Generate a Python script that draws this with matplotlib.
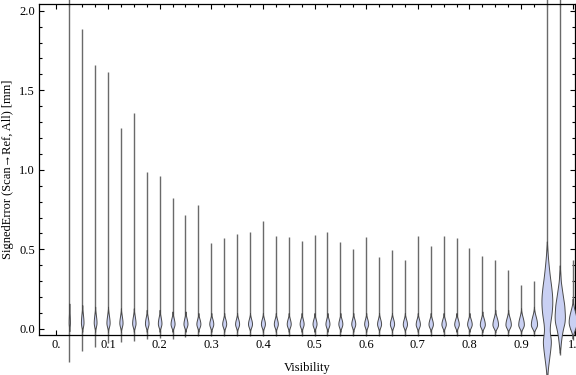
import numpy as np
import matplotlib
matplotlib.use("Agg")
import matplotlib.pyplot as plt

# ---------------- data ----------------
visibility = [0.025, 0.05, 0.075, 0.1, 0.125, 0.15, 0.175, 0.2, 0.225, 0.25,
              0.275, 0.3, 0.325, 0.35, 0.375, 0.4, 0.425, 0.45, 0.475, 0.5,
              0.525, 0.55, 0.575, 0.6, 0.625, 0.65, 0.675, 0.7, 0.725, 0.75,
              0.775, 0.8, 0.825, 0.85, 0.875, 0.9, 0.925, 0.95, 0.975, 1.0]

err_max = [2.60, 1.887, 1.658, 1.612, 1.262, 1.358, 0.986, 0.960, 0.820, 0.719,
           0.778, 0.537, 0.570, 0.597, 0.610, 0.679, 0.585, 0.577, 0.555, 0.591,
           0.608, 0.547, 0.503, 0.579, 0.453, 0.495, 0.434, 0.585, 0.522, 0.585,
           0.570, 0.507, 0.459, 0.434, 0.371, 0.277, 0.304, 2.60, 2.60, 0.434]

err_min = [-0.205, -0.140, -0.115, -0.090, -0.085, -0.075, -0.065, -0.055, -0.063, -0.048,
           -0.047, -0.046, -0.046, -0.045, -0.046, -0.045, -0.046, -0.045, -0.046, -0.045,
           -0.046, -0.045, -0.046, -0.045, -0.046, -0.045, -0.046, -0.045, -0.046, -0.045,
           -0.046, -0.045, -0.046, -0.045, -0.046, -0.045, -0.046, -0.40, -0.165, -0.070]

# location of the density maximum
err_mode = [0.040, 0.040, 0.040, 0.038, 0.038, 0.036, 0.035, 0.035, 0.032, 0.032,
            0.032, 0.032, 0.032, 0.032, 0.032, 0.032, 0.032, 0.032, 0.032, 0.032,
            0.032, 0.032, 0.032, 0.032, 0.032, 0.032, 0.030, 0.030, 0.030, 0.030,
            0.030, 0.030, 0.028, 0.028, 0.028, 0.028, 0.028, 0.17, 0.06, 0.045]

# upper / lower end of the visible density body
body_hi = [0.16, 0.15, 0.14, 0.14, 0.13, 0.13, 0.12, 0.12, 0.11, 0.11,
           0.10, 0.10, 0.10, 0.10, 0.10, 0.10, 0.10, 0.10, 0.10, 0.10,
           0.10, 0.10, 0.10, 0.10, 0.10, 0.10, 0.10, 0.10, 0.10, 0.10,
           0.10, 0.10, 0.11, 0.12, 0.12, 0.13, 0.14, 0.55, 0.40, 0.19]
body_lo = [-0.015, -0.018, -0.018, -0.018, -0.018, -0.018, -0.018, -0.018, -0.018, -0.018,
           -0.018, -0.018, -0.018, -0.018, -0.018, -0.018, -0.018, -0.018, -0.018, -0.018,
           -0.018, -0.018, -0.018, -0.018, -0.018, -0.018, -0.018, -0.018, -0.018, -0.018,
           -0.018, -0.018, -0.020, -0.022, -0.022, -0.024, -0.026, -0.30, -0.15, -0.060]

# relative peak density (drawn as half width of the violin)
peak_density = [0.6, 1.3, 1.4, 1.6, 1.6, 1.7, 1.8, 1.8, 2.0, 2.0,
                2.0, 2.0, 2.0, 2.0, 2.0, 2.0, 2.0, 2.0, 2.0, 2.0,
                2.0, 2.0, 2.0, 2.0, 2.0, 2.1, 2.1, 2.1, 2.2, 2.2,
                2.3, 2.3, 2.5, 2.8, 2.7, 2.8, 3.1, 5.4, 5.2, 4.0]

# density profiles of the two wide distributions (value, relative density)
wide_095_y = [0.55, 0.47, 0.40, 0.33, 0.27, 0.21, 0.16, 0.10, 0.05, 0.01,
              -0.03, -0.07, -0.12, -0.19, -0.25, -0.30]
wide_095_d = [0.0, 0.8, 1.8, 3.0, 4.3, 5.3, 5.5, 4.8, 3.6, 2.8,
              3.0, 4.2, 3.6, 2.2, 1.0, 0.3]
wide_0975_y = [0.40, 0.30, 0.22, 0.15, 0.08, 0.04, 0.00, -0.04, -0.08, -0.15]
wide_0975_d = [0.0, 1.0, 2.8, 4.5, 5.2, 4.8, 3.2, 2.0, 1.2, 0.0]

x_ticks = [0.0, 0.1, 0.2, 0.3, 0.4, 0.5, 0.6, 0.7, 0.8, 0.9, 1.0]
x_labels = ["0.", "0.1", "0.2", "0.3", "0.4", "0.5", "0.6", "0.7", "0.8", "0.9", "1."]
y_ticks = [0.0, 0.5, 1.0, 1.5, 2.0]
y_labels = ["0.0", "0.5", "1.0", "1.5", "2.0"]

# ---------------- style ----------------
FILL = "#c9d0f3"
EDGE = "#4a4a4a"
LINE = "#6a6a6a"
PX = 1.0 / 516.0          # data units per pixel along x
FONT = ["Liberation Serif", "DejaVu Serif"]

plt.rcParams["font.family"] = FONT
fig = plt.figure(figsize=(5.76, 3.75), dpi=100)
ax = fig.add_axes([39 / 576, 40 / 375, 536 / 576, 331 / 375])
ax.set_xlim(-0.0337, 1.0045)
ax.set_ylim(-0.038, 2.042)


def spindle(y, mode, lo, hi, w):
    t = np.where(y >= mode, (y - mode) / (hi - mode), (mode - y) / (mode - lo))
    t = np.clip(t, 0, 1)
    return w * (1 - t) ** 2 * (1 + 2 * t)


def smooth_profile(ys, ds):
    y = np.linspace(ys[-1], ys[0], 400)
    hw = np.interp(y, ys[::-1], ds[::-1])
    k = np.ones(25) / 25
    hw = np.convolve(np.pad(hw, 12, mode="edge"), k, mode="valid")
    return y, hw


for i, x in enumerate(visibility):
    ax.plot([x, x], [err_min[i], err_max[i]], color=LINE, lw=1.0,
            clip_on=False, zorder=2, solid_capstyle="butt")
    if x == 0.95:
        y, hw = smooth_profile(wide_095_y, wide_095_d)
    elif x == 0.975:
        y, hw = smooth_profile(wide_0975_y, wide_0975_d)
    else:
        y = np.linspace(body_lo[i], body_hi[i], 200)
        hw = spindle(y, err_mode[i], body_lo[i], body_hi[i], peak_density[i])
    hw = hw * PX
    ax.fill_betweenx(y, x - hw, x + hw, facecolor=FILL, edgecolor=EDGE,
                     lw=0.7, clip_on=False, zorder=3)

# ticks
ax.set_xticks(x_ticks)
ax.set_xticklabels(x_labels)
ax.set_xticks(visibility, minor=True)
ax.set_yticks(y_ticks)
ax.set_yticklabels(y_labels)
ax.set_yticks([v / 10 for v in range(0, 21)], minor=True)
ax.tick_params(which="both", direction="in", top=True, right=True,
               labelsize=9, width=0.8, colors="black")
ax.tick_params(which="major", length=3.5, pad=3)
ax.tick_params(which="minor", length=2.2)
for s in ax.spines.values():
    s.set_linewidth(0.9)

ax.set_xlabel("Visibility", fontsize=9)
ax.set_ylabel("SignedError (Scan\u2192Ref, All) [mm]", fontsize=9)
ax.xaxis.set_label_coords(0.5, -0.082)
ax.yaxis.set_label_coords(-0.047, 0.5)

fig.savefig("out.png", dpi=100)
